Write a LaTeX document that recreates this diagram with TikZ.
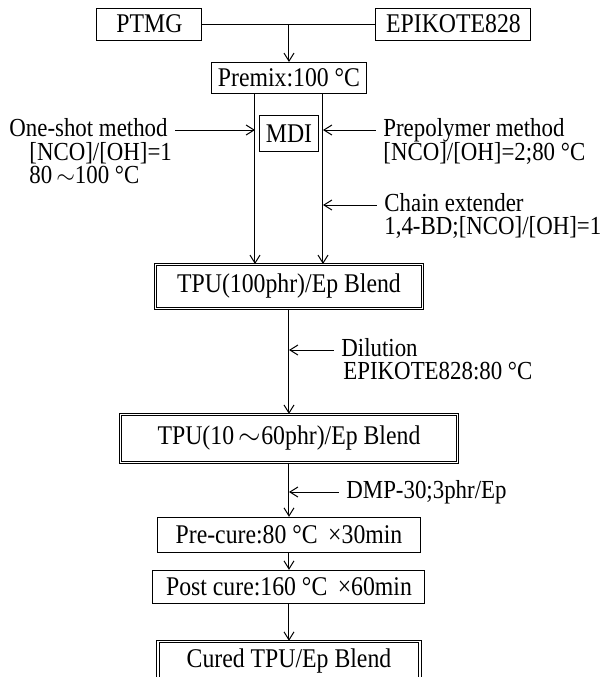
\documentclass[tikz,border=0pt]{standalone}
\usepackage{fontspec}
\setmainfont[FakeStretch=0.88]{Liberation Serif}
\usepackage{tikz}
\usetikzlibrary{arrows.meta, positioning, calc}

\begin{document}
\begin{tikzpicture}[
    box/.style={draw, rectangle, line width=0.5pt, font=\fontsize{13.5}{15}\selectfont, inner xsep=1pt, inner ysep=2pt, align=center},
    heavy/.style={box, double, double distance=0.7pt, line width=0.45pt},
    note/.style={font=\fontsize{13}{15}\selectfont, inner sep=0.5pt, text height=8pt, text depth=2pt, anchor=west},
    notes/.style={font=\fontsize{13}{11.5}\selectfont, inner sep=0.5pt, align=left, anchor=north west},
    flow/.style={-{Straight Barb[length=4pt,width=5pt]}, line width=0.5pt}
]
\useasboundingbox (0,0) rectangle (308pt,-338.5pt);

% Nodes
\node[box, minimum width=52.5pt, minimum height=16pt] (ptmg) at (74.75pt,-12pt) {PTMG};
\node[box, minimum width=77.5pt, minimum height=16pt, right=86.5pt of ptmg] (epik) {EPIKOTE828};
\coordinate (joint) at (144.5pt,-12pt);

\node[box, minimum width=77.5pt, minimum height=15.5pt, below=19pt of joint] (premix) {Premix:100 °C};
\node[box, minimum width=29.5pt, minimum height=18pt, below=10.5pt of premix] (mdi) {MDI};
\coordinate (lft) at ([xshift=-2pt]mdi.west);
\coordinate (rgt) at ([xshift=2pt]mdi.east);

\node[heavy, minimum width=133.5pt, minimum height=22pt, below=85pt of premix] (tpu100) {TPU(100phr)/Ep Blend};
\node[heavy, minimum width=168.5pt, minimum height=24pt, below=52.5pt of tpu100] (tpu10) {TPU(10$\,\sim$60phr)/Ep Blend};
\node[box, minimum width=131.5pt, minimum height=17.5pt, below=27pt of tpu10] (precure) {Pre-cure:80 °C \,×30min};
\node[box, minimum width=136pt, minimum height=16.5pt, below=8.5pt of precure] (postcure) {Post cure:160 °C \,×60min};
\node[heavy, minimum width=131pt, minimum height=19.5pt, below=18.5pt of postcure] (cured) {Cured TPU/Ep Blend};

% Side notes
\node[note] (oneshot) at (4pt,-65pt) {One-shot method};
\node[notes] (oneshotB) at ([xshift=10pt,yshift=-5.5pt]oneshot.west) {[NCO]/[OH]=1\\80$\,\sim$100 °C};

\node[note] (prepoly) at (191pt,-65pt) {Prepolymer method};
\node[note] (prepolyB) at ([yshift=-12pt]prepoly.west) {[NCO]/[OH]=2;80 °C};

\node[note] (chain) at (191.5pt,-102.5pt) {Chain extender};
\node[note] (chainB) at ([yshift=-11.5pt]chain.west) {1,4-BD;[NCO]/[OH]=1};

\node[note] (dilution) at (170pt,-175pt) {Dilution};
\node[note] (dilutionB) at ([xshift=1pt,yshift=-11.5pt]dilution.west) {EPIKOTE828:80 °C};

\node[note] (dmp) at (172.5pt,-246pt) {DMP-30;3phr/Ep};

% Connections
\draw[line width=0.5pt] (ptmg) -- (epik);
\draw[flow] (joint) -- (premix);

\draw[flow] (premix.south -| lft) -- (tpu100.north -| lft);
\draw[flow] (premix.south -| rgt) -- (tpu100.north -| rgt);

\draw[flow] ([xshift=3pt]oneshot.east) -- (lft |- oneshot.east);
\draw[flow] ([xshift=-3pt]prepoly.west) -- (rgt |- prepoly.west);
\draw[flow] ([xshift=-3pt]chain.west) -- (rgt |- chain.west);

\draw[flow] (tpu100) -- (tpu10);
\draw[flow] ([xshift=-3pt]dilution.west) -- (tpu100 |- dilution.west);

\draw[flow] (tpu10) -- (precure);
\draw[flow] ([xshift=-3pt]dmp.west) -- (tpu10 |- dmp.west);

\draw[flow] (precure) -- (postcure);
\draw[flow] (postcure) -- (cured);

\end{tikzpicture}
\end{document}
